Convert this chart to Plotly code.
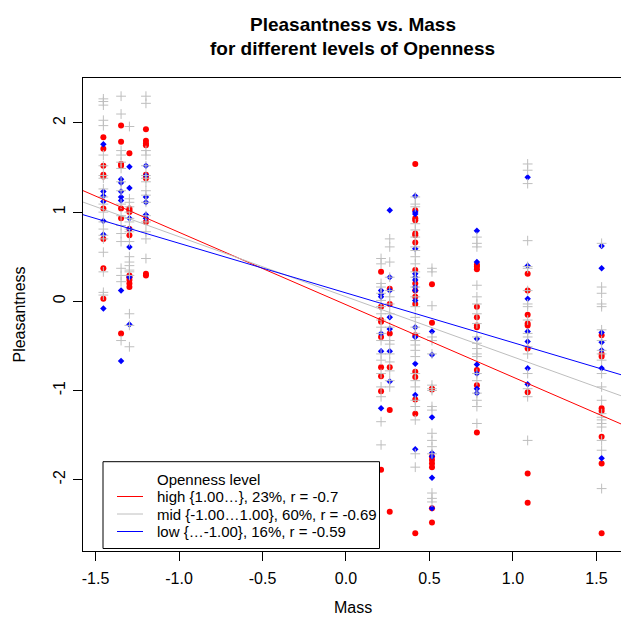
import plotly.graph_objects as go

# ---------------- data ----------------
mass_levels = [-1.453, -1.347, -1.297, -1.198, 0.21, 0.262, 0.415, 0.515, 0.784, 1.088, 1.531]

# high openness (red)
high_y = [
    [1.84, 1.71, 1.52, 1.42, 1.40, 1.04, 0.70, 0.37, 0.03],
    [1.97, 1.79, 1.54, 1.52, 1.04, 0.93, -0.36],
    [1.66, 1.04, 1.02, 1.00, 0.81, 0.74, 0.29, 0.27, 0.24, 0.20, 0.16],
    [1.93, 1.80, 1.77, 1.75, 1.42, 1.39, 1.38, 0.89, 0.31, 0.29],
    [0.33, -0.06, -0.21, -0.23, -0.40, -0.74, -0.84, -1.01, -1.89],
    [0.14, -0.03, -0.36, -0.74, -1.22, -2.36],
    [1.54, 1.02, 0.93, 0.91, 0.76, 0.74, 0.66, 0.35, 0.20, 0.12, 0.05, -0.03, -0.38, -0.79, -0.85, -1.10, -1.26, -2.60],
    [0.19, -0.24, -0.98, -0.99, -1.74, -1.78, -1.82, -1.86, -2.32, -2.48],
    [0.41, 0.39, 0.36, -0.06, -0.18, -0.27, -0.29, -0.77, -0.94, -1.47],
    [0.31, 0.12, -0.15, -0.25, -0.27, -0.53, -1.02, -1.93, -2.26],
    [-0.38, -0.59, -0.62, -1.20, -1.23, -1.52, -1.82, -2.60],
]

# mid openness (gray)
mid_y = [
    [2.27, 2.24, 2.20, 2.03, 1.97, 1.64, 1.52, 1.41, 1.38, 1.26, 1.17, 1.09, 1.00, 0.89, 0.81, 0.74, 0.70, 0.55, 0.33, 0.10, 0.07],
    [2.30, 2.10, 1.69, 1.64, 1.56, 1.49, 1.34, 1.24, 1.09, 0.96, 0.85, 0.76, 0.67, 0.37, 0.29, 0.22, -0.44],
    [1.96, 1.15, 1.11, 1.06, 1.00, 0.93, 0.89, 0.81, 0.78, 0.67, 0.50, 0.44, 0.40, 0.35, 0.33, 0.29, -0.14, -0.27, -0.51],
    [2.30, 2.22, 1.69, 1.64, 1.52, 1.41, 1.38, 1.34, 1.24, 1.19, 1.11, 0.96, 0.89, 0.78, 0.70, 0.48],
    [0.48, 0.42, 0.20, 0.16, 0.09, 0.01, -0.06, -0.14, -0.21, -0.29, -0.36, -0.44, -0.59, -0.66, -0.81, -0.96, -1.07, -1.35, -1.61],
    [0.70, 0.61, 0.44, 0.27, 0.12, 0.05, -0.03, -0.14, -0.29, -0.44, -0.48, -0.59, -0.68, -0.78, -0.89, -0.96],
    [1.17, 1.09, 1.06, 0.87, 0.80, 0.72, 0.61, 0.57, 0.50, 0.42, 0.33, 0.27, 0.16, 0.05, -0.06, -0.18, -0.29, -0.36, -0.44,
     -0.49, -0.55, -0.62, -0.81, -0.89, -0.96, -1.11, -1.18, -1.33, -1.71, -1.86],
    [0.37, 0.33, -0.05, -0.40, -0.44, -0.59, -0.94, -0.98, -1.00, -1.18, -1.22, -1.48, -1.56, -1.63, -1.71, -2.15, -2.21, -2.25],
    [0.72, 0.65, 0.61, 0.18, 0.05, -0.03, -0.14, -0.25, -0.40, -0.47, -0.53, -0.59, -0.62, -0.81, -0.89, -1.03, -1.11, -1.18, -1.37],
    [1.54, 1.47, 1.32, 0.68, 0.39, 0.37, 0.12, -0.03, -0.06, -0.21, -0.36, -0.40, -0.51, -0.59, -0.81, -0.98, -1.07, -1.56],
    [0.65, 0.16, 0.09, -0.03, -0.06, -0.32, -0.44, -0.55, -0.59, -0.66, -0.81, -0.96, -1.11, -1.26, -1.30, -1.33, -1.37,
     -1.41, -1.56, -1.67, -2.10],
]

# low openness (blue)
low_y = [
    [1.76, 1.23, 1.18, 1.12, 0.90, 0.75, -0.08],
    [1.37, 1.33, 1.23, 1.17, 1.13, 0.12, -0.67],
    [1.51, 1.27, 0.93, 0.81, 0.61, 0.27, -0.26],
    [1.52, 1.41, 1.17, 1.11, 0.97, 0.93],
    [0.12, 0.08, 0.05, -0.36, -0.56, -1.20],
    [1.02, 0.27, 0.12, -0.18, -0.31, -0.56, -0.90],
    [1.18, 1.00, 0.98, 0.59, 0.31, 0.27, 0.24, 0.16, 0.12, 0.01, -0.29, -0.40, -0.70, -1.05, -1.66],
    [-0.34, -0.60, -1.30, -1.70, -1.74, -1.98, -2.32],
    [0.79, 0.44, -0.42, -0.71, -0.81, -0.98, -1.03],
    [1.39, 0.40, 0.03, -0.34, -0.45, -0.75, -0.93],
    [0.62, 0.37, -0.35, -0.46, -0.55, -0.75, -1.76],
]

# regression lines (intercept, slope) per level
group_names = ["high {1.00…}, 23%, r = -0.7",
               "mid {-1.00…1.00}, 60%, r = -0.69",
               "low {…-1.00}, 16%, r = -0.59"]
line_intercepts = [-0.038, 0.051, 0.094]
line_slopes = [-0.812, -0.674, -0.557]

x_ticks = [-1.5, -1.0, -0.5, 0.0, 0.5, 1.0, 1.5]
x_tick_labels = ["-1.5", "-1.0", "-0.5", "0.0", "0.5", "1.0", "1.5"]
y_ticks = [-2, -1, 0, 1, 2]
y_tick_labels = ["-2", "-1", "0", "1", "2"]

# ---------------- styling ----------------
FONT = "Liberation Sans, Arial, Helvetica, sans-serif"
W, H = 621, 623
ML, MR, MT, MB = 83, 0, 78, 72
x_range = [-1.575, 1.647]
y_range = [-2.80, 2.504]
group_colors = ["#FF0000", "#BEBEBE", "#0000FF"]

PW = W - ML - MR
PH = H - MT - MB


def xp(px):
    return (px - ML) / PW


def yp(py):
    return (H - MB - py) / PH


def flatten(groups):
    xs, ys = [], []
    for xv, col in zip(mass_levels, groups):
        for v in col:
            xs.append(xv)
            ys.append(v)
    return xs, ys


fig = go.Figure()

hx, hy = flatten(high_y)
fig.add_trace(go.Scatter(x=hx, y=hy, mode="markers", showlegend=False,
                         marker=dict(symbol="circle", size=6, color=group_colors[0], line=dict(width=0))))
lx, ly = flatten(low_y)
fig.add_trace(go.Scatter(x=lx, y=ly, mode="markers", showlegend=False,
                         marker=dict(symbol="diamond", size=5, color=group_colors[2], line=dict(width=0))))
mx, my = flatten(mid_y)
fig.add_trace(go.Scatter(x=mx, y=my, mode="markers", showlegend=False,
                         marker=dict(symbol="cross-thin", size=7, color=group_colors[1],
                                     line=dict(width=1, color=group_colors[1]))))

for a, b, c in zip(line_intercepts, line_slopes, group_colors):
    fig.add_trace(go.Scatter(x=x_range, y=[a + b * x_range[0], a + b * x_range[1]], mode="lines",
                             showlegend=False, line=dict(color=c, width=1)))

axis_font = dict(family=FONT, size=16, color="black")
fig.update_xaxes(range=x_range, tickvals=x_ticks, ticktext=x_tick_labels, ticks="outside", ticklen=9,
                 tickwidth=1, tickcolor="black", showline=True, linecolor="black", linewidth=1, mirror=True,
                 showgrid=False, zeroline=False, tickfont=axis_font, ticklabelstandoff=4)
fig.update_yaxes(range=y_range, tickvals=y_ticks, ticktext=y_tick_labels, ticks="outside", ticklen=9,
                 tickwidth=1, tickcolor="black", showline=True, linecolor="black", linewidth=1, mirror=False,
                 showgrid=False, zeroline=False, tickfont=axis_font, tickangle=-90, ticklabelstandoff=2)

annotations = [
    dict(text="<b>Pleasantness vs. Mass</b>", x=xp(352.5), y=yp(24), xref="paper", yref="paper",
         xanchor="center", yanchor="middle", showarrow=False, font=dict(family=FONT, size=19, color="black")),
    dict(text="<b>for different levels of Openness</b>", x=xp(352.5), y=yp(49), xref="paper", yref="paper",
         xanchor="center", yanchor="middle", showarrow=False, font=dict(family=FONT, size=19, color="black")),
    dict(text="Mass", x=xp(352.5), y=yp(607), xref="paper", yref="paper",
         xanchor="center", yanchor="middle", showarrow=False, font=axis_font),
    dict(text="Pleasantness", x=xp(19), y=yp(314.5), xref="paper", yref="paper", textangle=-90,
         xanchor="center", yanchor="middle", showarrow=False, font=axis_font),
]

shapes = [dict(type="rect", xref="paper", yref="paper", x0=xp(103), x1=xp(379.5), y0=yp(548.5), y1=yp(461.7),
               line=dict(color="black", width=1), fillcolor="white", layer="above")]

legend_font = dict(family=FONT, size=15, color="black")
annotations.append(dict(text="Openness level", x=xp(155), y=yp(479), xref="paper", yref="paper",
                        xanchor="left", yanchor="middle", showarrow=False, font=legend_font))
for i, (name, c) in enumerate(zip(group_names, group_colors)):
    yy = 496.5 + 17.5 * i
    shapes.append(dict(type="line", xref="paper", yref="paper", x0=xp(117), x1=xp(143), y0=yp(yy), y1=yp(yy),
                       line=dict(color=c, width=1), layer="above"))
    annotations.append(dict(text=name, x=xp(155), y=yp(yy), xref="paper", yref="paper",
                            xanchor="left", yanchor="middle", showarrow=False, font=legend_font))

fig.update_layout(width=W, height=H, margin=dict(l=ML, r=MR, t=MT, b=MB, pad=0),
                  paper_bgcolor="white", plot_bgcolor="white", showlegend=False,
                  annotations=annotations, shapes=shapes, font=dict(family=FONT))

fig.write_html("out.html")
